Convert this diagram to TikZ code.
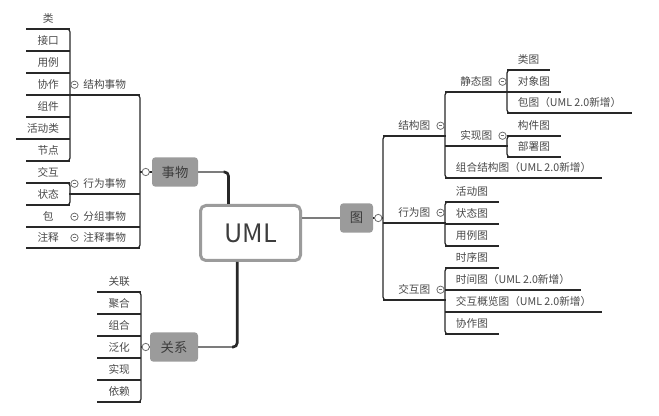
\documentclass[tikz,border=0pt]{standalone}
\usepackage{fontspec}
\setmainfont{Noto Sans CJK SC}
\usepackage{tikz}
\usetikzlibrary{calc}
\definecolor{mmline}{RGB}{40, 40, 40}
\definecolor{mmtext}{RGB}{72, 72, 72}
\definecolor{mmgray}{RGB}{155, 155, 155}
\definecolor{mmfold}{RGB}{110, 110, 110}

\begin{document}
\begin{tikzpicture}[x=0.75pt, y=-0.75pt,
    topic/.style={rectangle, inner xsep=8pt, inner ysep=0pt, minimum height=15pt, text=mmtext, font=\fontsize{8}{9}\selectfont},
    leafL/.style={topic, anchor=south east, minimum width=#1}, leafL/.default=32.25pt,
    leafR/.style={topic, anchor=south west, minimum width=#1}, leafR/.default=39pt,
    hub/.style={rectangle, rounded corners=2.5pt, fill=mmgray, text=mmtext!85!black, minimum height=22pt, font=\fontsize{10}{12}\selectfont},
    root/.style={rectangle, rounded corners=4pt, draw=mmgray, line width=2.25pt, fill=white, minimum width=75pt, minimum height=41.25pt, text=mmtext!85!black, font=\fontsize{19}{22}\selectfont},
    branch/.style={mmline, line width=0.9pt},
    bracket/.style={branch, rounded corners=2.25pt},
    stem/.style={mmgray!80!black, line width=1pt},
    trunk/.style={mmline, line width=2pt, rounded corners=3pt},
    knob/.style={circle, draw=mmfold, fill=white, line width=0.6pt, inner sep=0pt, minimum size=5.5pt},
    fold/.style={knob, path picture={\draw[mmfold, line width=0.6pt] ([xshift=1.3pt]path picture bounding box.west) -- ([xshift=-1.3pt]path picture bounding box.east);}}]
    \useasboundingbox (0,0) rectangle (659,416);

    % Centre
    \node[root] (uml) at (250.5,233) {UML};
    \node[hub, minimum width=34.5pt] (shiwu) at (175,172) {事物};
    \node[hub, minimum width=36pt] (guanxi) at (174,347) {关系};
    \node[hub, minimum width=24.75pt] (tu) at (356.5,218) {图};

    % Left: leaves
    \node[leafL] (lei) at (70,29) {类};
    \node[leafL] (jiekou) at (70,51) {接口};
    \node[leafL] (yongli) at (70,73) {用例};
    \node[leafL] (xiezuo) at (70,95) {协作};
    \node[leafL] (zujian) at (70,117) {组件};
    \node[leafL=39.75pt] (huodonglei) at (70,139) {活动类};
    \node[leafL] (jiedian) at (70,161) {节点};
    \node[leafL] (jiaohu) at (70,183) {交互};
    \node[leafL] (zhuangtai) at (70,205) {状态};
    \node[leafL] (bao) at (70,227) {包};
    \node[leafL] (zhushi) at (70,248) {注释};

    % Left: things
    \node[leafL=52.5pt] (jgsw) at (140,95) {结构事物};
    \node[leafL=52.5pt] (xwsw) at (140,194) {行为事物};
    \node[leafL=52.5pt] (fzsw) at (140,227) {分组事物};
    \node[leafL=52.5pt] (zssw) at (140,248) {注释事物};

    % Left: relations
    \node[leafL] (guanlian) at (141,292) {关联};
    \node[leafL] (juhe) at (141,314) {聚合};
    \node[leafL] (zuhe) at (141,336) {组合};
    \node[leafL] (fanhua) at (141,358) {泛化};
    \node[leafL] (shixian) at (141,380) {实现};
    \node[leafL] (yilai) at (141,402) {依赖};

    % Right: diagram kinds
    \node[leafR=46.5pt] (jgt) at (383,136) {结构图};
    \node[leafR=46.5pt] (xwt) at (383,223) {行为图};
    \node[leafR=46.5pt] (jht) at (383,300) {交互图};
    \node[leafR=46.5pt] (jtt) at (445,92) {静态图};
    \node[leafR=46.5pt] (sxt) at (445,146) {实现图};
    \node[leafR] (zhjgt) at (445,178) {组合结构图（UML 2.0新增）};

    % Right: leaves
    \node[leafR=30.75pt] (leitu) at (507,70) {类图};
    \node[leafR] (dxt) at (507,92) {对象图};
    \node[leafR] (bt) at (507,113) {包图（UML 2.0新增）};
    \node[leafR] (gjt) at (507,136) {构件图};
    \node[leafR] (bst) at (507,157) {部署图};
    \node[leafR] (hdt) at (445,202) {活动图};
    \node[leafR] (ztt) at (445,224) {状态图};
    \node[leafR] (ylt) at (445,246) {用例图};
    \node[leafR] (sxut) at (445,268) {时序图};
    \node[leafR] (sjt) at (445,290) {时间图（UML 2.0新增）};
    \node[leafR] (jhglt) at (445,312) {交互概览图（UML 2.0新增）};
    \node[leafR] (xzt) at (445,334) {协作图};

    % Underlines
    \foreach \n in {lei,jiekou,yongli,xiezuo,zujian,huodonglei,jiedian,jiaohu,zhuangtai,bao,zhushi,
                    jgsw,xwsw,fzsw,zssw,guanlian,juhe,zuhe,fanhua,shixian,yilai,
                    jgt,xwt,jht,jtt,sxt,zhjgt,leitu,dxt,bt,gjt,bst,hdt,ztt,ylt,sxut,sjt,jhglt,xzt}
        \draw[branch] (\n.south west) -- (\n.south east);

    % Brackets, left
    \draw[bracket] ([xshift=-4pt]lei.south east) -- (lei.south east) -- (jiedian.south east) -- ([xshift=-4pt]jiedian.south east);
    \draw[bracket] ([xshift=-4pt]jiaohu.south east) -- (jiaohu.south east) -- (zhuangtai.south east) -- ([xshift=-4pt]zhuangtai.south east);
    \draw[bracket] ([xshift=-4pt]jgsw.south east) -- (jgsw.south east) -- (zssw.south east) -- ([xshift=-4pt]zssw.south east);
    \draw[bracket] ([xshift=-4pt]guanlian.south east) -- (guanlian.south east) -- (yilai.south east) -- ([xshift=-4pt]yilai.south east);

    % Brackets, right
    \draw[bracket] ([xshift=4pt]jgt.south west) -- (jgt.south west) -- (jht.south west) -- ([xshift=4pt]jht.south west);
    \draw[bracket] ([xshift=4pt]jtt.south west) -- (jtt.south west) -- (zhjgt.south west) -- ([xshift=4pt]zhjgt.south west);
    \draw[bracket] ([xshift=4pt]leitu.south west) -- (leitu.south west) -- (bt.south west) -- ([xshift=4pt]bt.south west);
    \draw[bracket] ([xshift=4pt]gjt.south west) -- (gjt.south west) -- (bst.south west) -- ([xshift=4pt]bst.south west);
    \draw[bracket] ([xshift=4pt]hdt.south west) -- (hdt.south west) -- (ylt.south west) -- ([xshift=4pt]ylt.south west);
    \draw[bracket] ([xshift=4pt]sxut.south west) -- (sxut.south west) -- (xzt.south west) -- ([xshift=4pt]xzt.south west);

    % Main branches
    \coordinate (umlN) at ([xshift=-16.5pt]uml.north);
    \coordinate (umlS) at ([xshift=-10pt]uml.south);
    \draw[stem] (shiwu.east) -- ($(shiwu.east -| umlN)+(-5,0)$);
    \draw[trunk] ($(shiwu.east -| umlN)+(-5,0)$) -| (umlN);
    \draw[stem] (guanxi.east) -- ($(guanxi.east -| umlS)+(-5,0)$);
    \draw[trunk] ($(guanxi.east -| umlS)+(-5,0)$) -| (umlS);
    \draw[stem] (uml.east |- tu.west) -- (tu.west);

    % Hub to bracket
    \draw[branch] (shiwu.west) -- (shiwu.west -| jgsw.south east);
    \draw[branch] (guanxi.west) -- (guanxi.west -| guanlian.south east);
    \draw[branch] (tu.east) -- (tu.east -| jgt.south west);
    \node[knob] at ([xshift=-4.5pt]shiwu.west) {};
    \node[knob] at ([xshift=-3pt]guanxi.west) {};
    \node[knob] at ([xshift=3.75pt]tu.east) {};

    % Fold marks
    \foreach \n in {jgsw,xwsw,fzsw,zssw}
        \node[fold] at ([xshift=3.75pt]\n.west) {};
    \foreach \n in {jgt,xwt,jht,jtt,sxt}
        \node[fold] at ([xshift=-3.75pt]\n.east) {};
\end{tikzpicture}
\end{document}
